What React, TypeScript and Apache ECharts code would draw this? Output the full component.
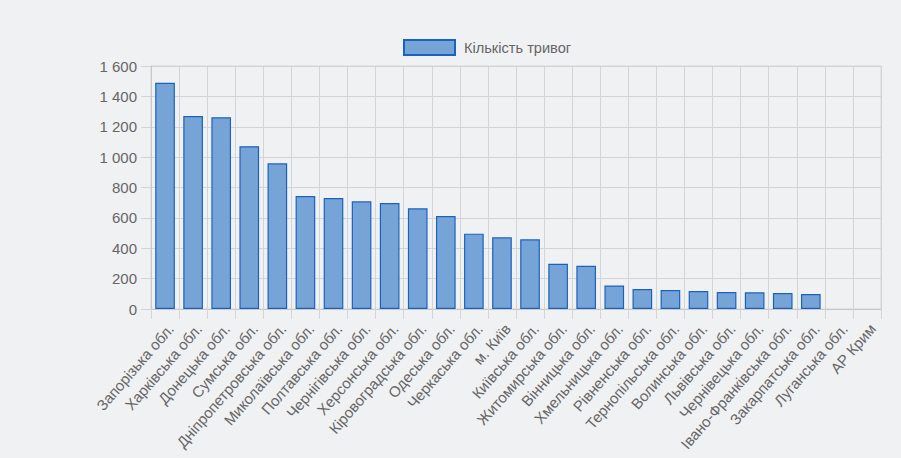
import React, { useEffect, useRef } from "react";
import * as echarts from "echarts";

const categories: string[] = [
  "Запорізька обл.", "Харківська обл.", "Донецька обл.", "Сумська обл.",
  "Дніпропетровська обл.", "Миколаївська обл.", "Полтавська обл.", "Чернігівська обл.",
  "Херсонська обл.", "Кіровоградська обл.", "Одеська обл.", "Черкаська обл.",
  "м. Київ", "Київська обл.", "Житомирська обл.", "Вінницька обл.",
  "Хмельницька обл.", "Рівненська обл.", "Тернопільська обл.", "Волинська обл.",
  "Львівська обл.", "Чернівецька обл.", "Івано-Франківська обл.", "Закарпатська обл.",
  "Луганська обл.", "АР Крим",
];

const alerts: number[] = [
  1490, 1270, 1263, 1072, 959, 744, 731, 709, 698, 663, 612, 496, 472, 459,
  298, 285, 155, 132, 125, 118, 112, 110, 105, 99, 0, 0,
];

const yTicks: number[] = [0, 200, 400, 600, 800, 1000, 1200, 1400, 1600];

const seriesName = "Кількість тривог";

const fmt = (v: number) =>
  v >= 1000 ? `${Math.floor(v / 1000)} ${String(v % 1000).padStart(3, "0")}` : String(v);

export default function App() {
  const ref = useRef<HTMLDivElement>(null);
  useEffect(() => {
    document.body.style.margin = "0";
    document.body.style.background = "#f0f1f3";
    const chart = echarts.init(ref.current!, null, { renderer: "svg" });
    const font = "Liberation Sans, Arial, sans-serif";
    chart.setOption({
      animation: false,
      backgroundColor: "#f0f1f3",
      textStyle: { fontFamily: font },
      legend: {
        top: 34,
        left: 398,
        icon: "rect",
        itemWidth: 51,
        itemHeight: 15,
        textStyle: { color: "#666", fontSize: 14.6, fontFamily: font, padding: [0, 0, 0, 4] },
        data: [seriesName],
      },
      grid: {
        left: 151,
        right: 20,
        top: 66,
        bottom: 149,
        show: true,
        borderColor: "#d4d4d4",
        borderWidth: 1,
        containLabel: false,
      },
      xAxis: {
        type: "category",
        data: categories,
        boundaryGap: true,
        axisLine: { show: true, lineStyle: { color: "#c8c8c8" } },
        axisTick: { show: true, length: 10, lineStyle: { color: "#d4d4d4" } },
        splitLine: { show: true, lineStyle: { color: "#d4d4d4" } },
        axisLabel: {
          interval: 0,
          rotate: 49,
          color: "#666",
          fontSize: 15,
          fontFamily: font,
          margin: 12,
          align: "right",
          verticalAlign: "top",
        },
      },
      yAxis: {
        type: "value",
        min: yTicks[0],
        max: yTicks[yTicks.length - 1],
        interval: yTicks[1] - yTicks[0],
        axisLine: { show: true, lineStyle: { color: "#c8c8c8" } },
        axisTick: { show: true, length: 10, lineStyle: { color: "#d4d4d4" } },
        splitLine: { show: true, lineStyle: { color: "#d4d4d4" } },
        axisLabel: {
          color: "#666",
          fontSize: 15,
          fontFamily: font,
          margin: 14,
          formatter: (v: number) => fmt(v),
        },
      },
      series: [
        {
          name: seriesName,
          type: "bar",
          data: alerts.map((v) => (v === 0 ? { value: v, itemStyle: { borderWidth: 0 } } : v)),
          barCategoryGap: "30%",
          itemStyle: {
            color: "#77a4d6",
            borderColor: "#1a62c2",
            borderWidth: 1.2,
          },
        },
      ],
    });
    return () => chart.dispose();
  }, []);
  return <div ref={ref} style={{ width: 901, height: 458 }} />;
}
